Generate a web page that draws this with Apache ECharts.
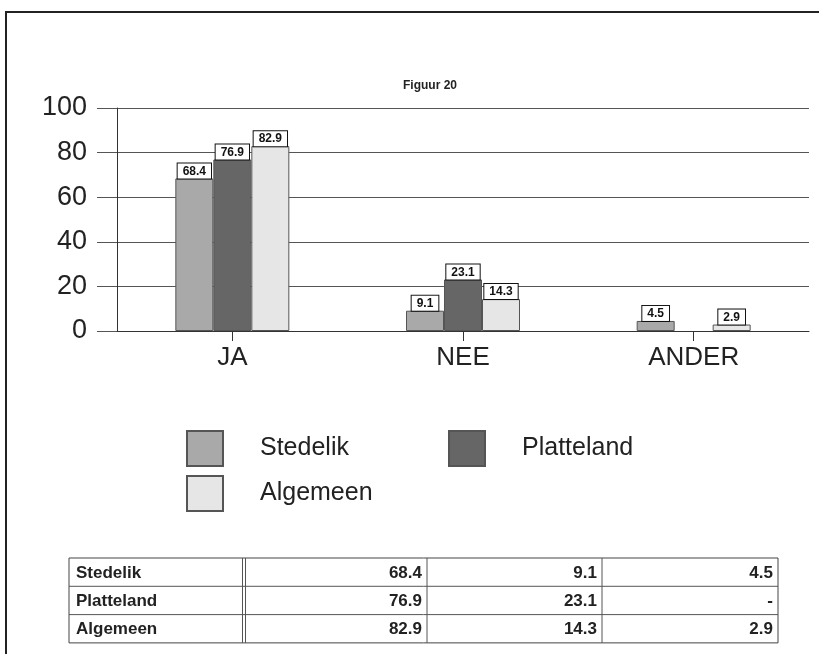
<!DOCTYPE html>
<html>
<head>
<meta charset="utf-8">
<script src="https://cdn.jsdelivr.net/npm/echarts@6/dist/echarts.min.js"></script>
<style>
html,body{margin:0;padding:0;background:#fff;}
#chart{width:819px;height:654px;}
</style>
</head>
<body>
<div id="chart"></div>
<script>
var categories = ['JA', 'NEE', 'ANDER'];
var seriesNames = ['Stedelik', 'Platteland', 'Algemeen'];
var stedelik = [68.4, 9.1, 4.5];
var platteland = [76.9, 23.1, null];
var algemeen = [82.9, 14.3, 2.9];
var yTicks = [0, 20, 40, 60, 80, 100];
var titleText = 'Figuur 20';

var FONT = '"Liberation Sans", Arial, sans-serif';
var colors = ['#a9a9a9', '#666666', '#e6e6e6'];
var seriesData = [stedelik, platteland, algemeen];

var chart = echarts.init(document.getElementById('chart'));

function barSeries(i) {
  return {
    name: seriesNames[i],
    type: 'bar',
    data: seriesData[i],
    barWidth: 38,
    barGap: '0%',
    itemStyle: { color: colors[i], borderColor: '#555', borderWidth: 1 },
    label: {
      show: true,
      position: 'top',
      distance: 0,
      formatter: function (p) { return p.value == null ? '' : p.value.toFixed(1); },
      backgroundColor: '#fff',
      borderColor: '#111',
      borderWidth: 1,
      padding: [2, 5, 1, 5],
      color: '#111',
      fontFamily: FONT,
      fontWeight: 'bold',
      fontSize: 12
    }
  };
}

// table layout
var tLeft = 69, tRight = 778, tTop = 558, rowH = 28.3;
var colX = [69, 244, 427, 602, 778];
var graphics = [];
graphics.push({ type: 'rect', shape: { x: 6, y: 12, width: 840, height: 680 }, style: { fill: 'none', stroke: '#222', lineWidth: 2 } });
graphics.push({ type: 'rect', shape: { x: tLeft, y: tTop, width: tRight - tLeft, height: rowH * 3 }, style: { fill: 'none', stroke: '#444', lineWidth: 1 } });
for (var r = 1; r < 3; r++) {
  graphics.push({ type: 'line', shape: { x1: tLeft, y1: tTop + rowH * r, x2: tRight, y2: tTop + rowH * r }, style: { stroke: '#555', lineWidth: 1 } });
}
graphics.push({ type: 'line', shape: { x1: colX[1] - 1.5, y1: tTop, x2: colX[1] - 1.5, y2: tTop + rowH * 3 }, style: { stroke: '#555', lineWidth: 1 } });
graphics.push({ type: 'line', shape: { x1: colX[1] + 1.5, y1: tTop, x2: colX[1] + 1.5, y2: tTop + rowH * 3 }, style: { stroke: '#555', lineWidth: 1 } });
for (var c = 2; c < 4; c++) {
  graphics.push({ type: 'line', shape: { x1: colX[c], y1: tTop, x2: colX[c], y2: tTop + rowH * 3 }, style: { stroke: '#555', lineWidth: 1 } });
}
for (var s = 0; s < 3; s++) {
  var cy = tTop + rowH * s + rowH / 2 + 1;
  graphics.push({ type: 'text', x: tLeft + 7, y: cy, style: { text: seriesNames[s], font: 'bold 17px ' + FONT, fill: '#222', textAlign: 'left', textVerticalAlign: 'middle' } });
  for (var k = 0; k < 3; k++) {
    var v = seriesData[s][k];
    graphics.push({ type: 'text', x: colX[k + 2] - 5, y: cy, style: { text: v == null ? '-' : v.toFixed(1), font: 'bold 17px ' + FONT, fill: '#222', textAlign: 'right', textVerticalAlign: 'middle' } });
  }
}

var legendBase = {
  itemWidth: 36,
  itemHeight: 35,
  icon: 'rect',
  padding: 0,
  textStyle: { fontFamily: FONT, fontSize: 25, color: '#222', padding: [0, 0, 0, 32] },
  selectedMode: false,
  orient: 'horizontal'
};

var option = {
  animation: false,
  backgroundColor: '#fff',
  title: {
    text: titleText,
    left: 425,
    top: 75,
    textAlign: 'center',
    textStyle: { fontFamily: FONT, fontSize: 12, fontWeight: 'bold', color: '#222' }
  },
  legend: [
    Object.assign({}, legendBase, { data: [seriesNames[0]], left: 186, top: 430 }),
    Object.assign({}, legendBase, { data: [seriesNames[1]], left: 448, top: 430 }),
    Object.assign({}, legendBase, { data: [seriesNames[2]], left: 186, top: 475 })
  ],
  grid: { left: 117, right: 10, top: 108, bottom: 323, containLabel: false },
  xAxis: {
    type: 'category',
    data: categories,
    axisLine: { lineStyle: { color: '#333', width: 1 } },
    axisTick: { show: true, alignWithLabel: true, length: 10, lineStyle: { color: '#333' } },
    axisLabel: { fontFamily: FONT, fontSize: 26, color: '#222', margin: 14 }
  },
  yAxis: {
    type: 'value',
    min: 0,
    max: 100,
    interval: 20,
    axisLine: { show: true, lineStyle: { color: '#333', width: 1 } },
    axisTick: { show: true, inside: false, length: 20, lineStyle: { color: '#555' } },
    splitLine: { show: true, lineStyle: { color: '#555', width: 1 } },
    axisLabel: {
      fontFamily: FONT, fontSize: 27, color: '#222', margin: 30,
      formatter: function (v) { return yTicks.indexOf(v) >= 0 ? String(v) : ''; }
    }
  },
  series: [barSeries(0), barSeries(1), barSeries(2)],
  graphic: graphics
};
chart.setOption(option);
</script>
</body>
</html>
